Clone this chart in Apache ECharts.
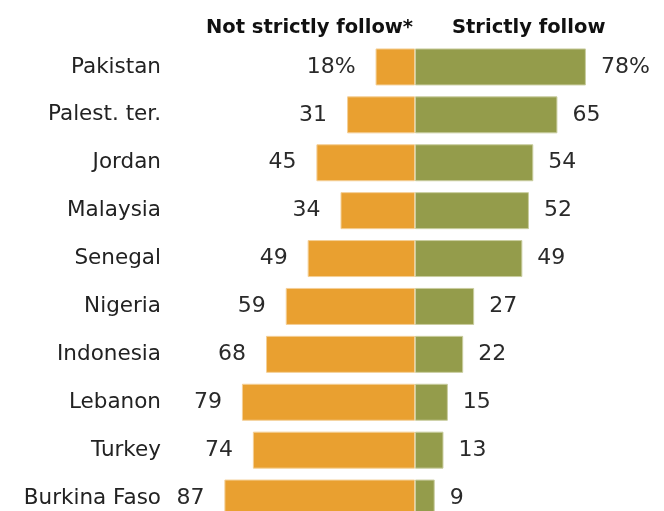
<!DOCTYPE html>
<html><head><meta charset="utf-8">
<script src="https://cdn.jsdelivr.net/npm/echarts@6/dist/echarts.min.js"></script>
<style>html,body{margin:0;padding:0;background:#fff}#c{width:664px;height:511px}</style>
</head><body><div id="c"></div>
<script>
const categories = ['Pakistan','Palest. ter.','Jordan','Malaysia','Senegal','Nigeria','Indonesia','Lebanon','Turkey','Burkina Faso'];
const notStrictly = [18,31,45,34,49,59,68,79,74,87];
const strictly = [78,65,54,52,49,27,22,15,13,9];
const headers = ['Not strictly follow*','Strictly follow'];

const FONT = 'DejaVu Sans';
const chart = echarts.init(document.getElementById('c'));
chart.setOption({
  animation:false,
  backgroundColor:'#fff',
  grid:{left:174,width:482,top:43,height:479,containLabel:false,outerBoundsMode:'none'},
  xAxis:{type:'value',min:-110,max:110,show:false},
  yAxis:{type:'category',data:categories,inverse:true,
    axisLine:{show:false},axisTick:{show:false},splitLine:{show:false},
    axisLabel:{margin:13,color:'#222',fontFamily:FONT,fontSize:21.5}},
  series:[
    {name:headers[0],type:'bar',stack:'s',barWidth:37,
      data:notStrictly.map(v=>-v),
      itemStyle:{color:'#E9A030',borderColor:'#F4CF96',borderWidth:1},
      label:{show:true,position:'left',distance:20,color:'#2a2a2a',fontFamily:FONT,fontSize:22,
        formatter:p=>Math.abs(p.value)+(p.dataIndex===0?'%':'')}},
    {name:headers[1],type:'bar',stack:'s',barWidth:37,
      data:strictly,
      itemStyle:{color:'#949C4B',borderColor:'#C9CD9F',borderWidth:1},
      label:{show:true,position:'right',distance:15,color:'#2a2a2a',fontFamily:FONT,fontSize:22,
        formatter:p=>p.value+(p.dataIndex===0?'%':'')}}
  ],
  graphic:[
    {type:'text',right:251,top:18,style:{text:headers[0],fill:'#111',font:'bold 19.5px "'+FONT+'"',textAlign:'right'}},
    {type:'text',left:452,top:18,style:{text:headers[1],fill:'#111',font:'bold 19.5px "'+FONT+'"'}}
  ]
});
</script></body></html>
